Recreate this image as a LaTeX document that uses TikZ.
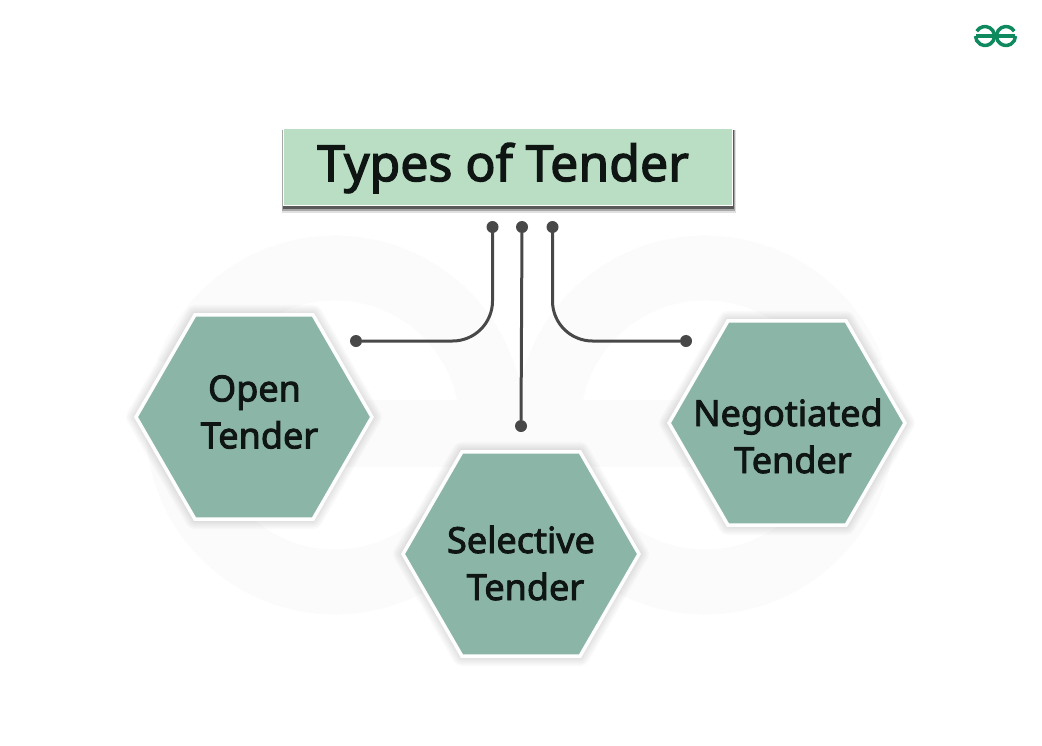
\documentclass[tikz,border=0pt]{standalone}
\usepackage{fontspec}
\setmainfont{Noto Sans}[FakeBold=2.5]
\usetikzlibrary{shapes.geometric, calc}
\definecolor{hexgreen}{HTML}{8BB5A7}
\definecolor{titlegreen}{HTML}{B9DEC3}
\definecolor{wiregray}{HTML}{484848}
\definecolor{logogreen}{HTML}{0F8A5F}
\definecolor{markgray}{HTML}{FAFBFA}
\definecolor{inktext}{HTML}{0E1512}
\tikzset{
    hexbox/.style={regular polygon, regular polygon sides=6, minimum size=236pt, inner sep=0pt,
        fill=hexgreen, draw=white, line width=3.5pt},
    hexhalo/.style={regular polygon, regular polygon sides=6, minimum size=238pt, inner sep=0pt,
        draw=black, draw opacity=.02, fill opacity=0, line join=round},
    hexlabel/.style={align=center, text=inktext, inner sep=0pt, font=\fontsize{36}{47}\selectfont},
    titlebox/.style={rectangle, minimum width=449pt, minimum height=77pt, fill=titlegreen,
        draw=white, line width=1.5pt},
    titlelabel/.style={text=inktext, font=\fontsize{50}{60}\selectfont},
    wire/.style={draw=wiregray, line width=3pt, rounded corners=40pt},
    pin/.style={circle, fill=wiregray, minimum size=12pt, inner sep=0pt},
    markline/.style={draw=markgray, line width=65pt},
    logoline/.style={draw=logogreen, line width=3.5pt}
}
\begin{document}
\begin{tikzpicture}[x=1pt, y=-1pt]
    \useasboundingbox (0,0) rectangle (1042,745);
    % watermark
    \draw[markline] (335,425) ++(-160:157) arc [radius=157, start angle=-160, end angle=180];
    \draw[markline] (705,425) ++(-20:157) arc [radius=157, start angle=-20, end angle=-360];
    \fill[markgray] (178,400) rectangle (862,467);

    % soft shadows
    \foreach \spread in {3,6,9,12,15,18}{
        \node[hexhalo, line width=\spread pt] at (254,417) {};
        \node[hexhalo, line width=\spread pt] at (521,554) {};
        \node[hexhalo, line width=\spread pt] at (787,423) {};
    }
    \fill[black, opacity=.12] (282,130) rectangle (736,213);
    \fill[black, opacity=.25] (282,130) rectangle (735,210.5);
    \fill[black!65] (283,130) rectangle (734,209);

    \node[titlebox] (title) at (508,167) {};
    \node[titlelabel] (titletext) at (503,168) {Types of Tender};

    \node[hexbox] (open) at (254,417) {};
    \node[hexbox] (selective) at (521,554) {};
    \node[hexbox] (negotiated) at (787,423) {};

    \node[hexlabel] (opentext) at (254.5,412) {Open\\\hspace*{10pt}Tender};
    \node[hexlabel] (selectivetext) at (521,563) {Selective\\\hspace*{9pt}Tender};
    \node[hexlabel] (negotiatedtext) at (788,436) {Negotiated\\\hspace*{10pt}Tender};

    \node[pin] (p1) at (492.5,227) {};
    \node[pin] (p2) at (522,227) {};
    \node[pin] (p3) at (552.5,227) {};
    \node[pin] (q1) at (356,341) {};
    \node[pin] (q2) at (521,426) {};
    \node[pin] (q3) at (686,341) {};

    \draw[wire] (p1) -- (p1 |- q1) -- (q1);
    \draw[wire] (p2) -- (q2);
    \draw[wire] (p3) -- (p3 |- q3) -- (q3);

    % logo
    \draw[logoline] (976,36) -- (1015,36);
    \draw[logoline] (985,36) ++(-150:9.5) arc [radius=9.5, start angle=-150, end angle=180];
    \draw[logoline] (1006,36) ++(-30:9.5) arc [radius=9.5, start angle=-30, end angle=-360];
\end{tikzpicture}
\end{document}
